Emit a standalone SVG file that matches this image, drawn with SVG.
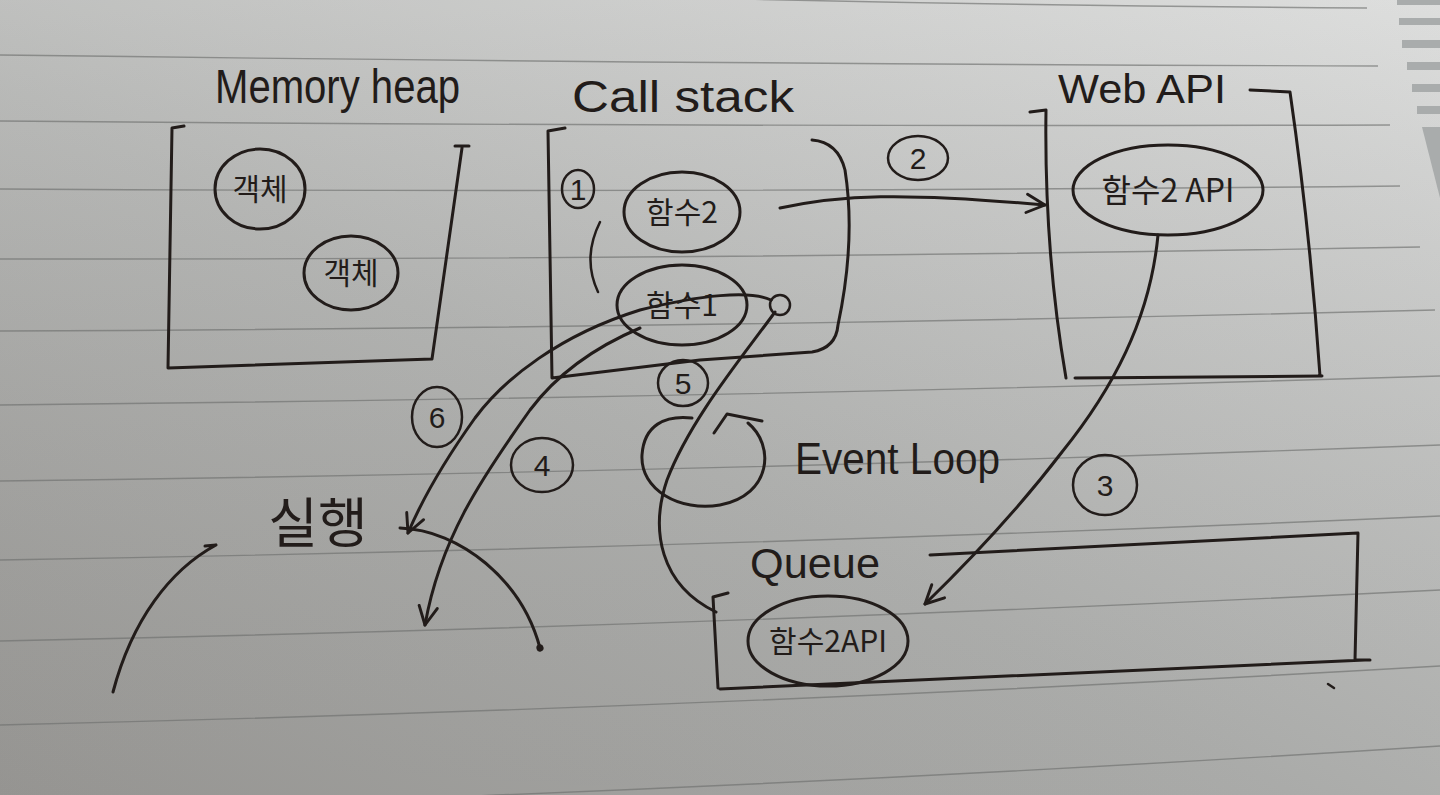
<svg xmlns="http://www.w3.org/2000/svg" width="1440" height="795" viewBox="0 0 1440 795">
  <defs>
    <linearGradient id="paper" x1="0" y1="1" x2="1" y2="0">
      <stop offset="0" stop-color="#9d9c99"/>
      <stop offset="0.45" stop-color="#b3b4b2"/>
      <stop offset="1" stop-color="#d9dad9"/>
    </linearGradient>
    <linearGradient id="shade" x1="0" y1="0" x2="0" y2="1">
      <stop offset="0" stop-color="#ffffff" stop-opacity="0.12"/>
      <stop offset="1" stop-color="#000000" stop-opacity="0.05"/>
    </linearGradient>
    <marker id="arr" viewBox="0 0 12 12" refX="11" refY="6" markerWidth="22" markerHeight="22" markerUnits="userSpaceOnUse" orient="auto">
      <path d="M1,1 L11,6 L1,11" fill="none" stroke="#221c1a" stroke-width="1.6" stroke-linecap="round" stroke-linejoin="round"/>
    </marker>
    <marker id="tip" viewBox="0 0 10 10" refX="5" refY="5" markerWidth="9" markerHeight="9" markerUnits="userSpaceOnUse" orient="auto">
      <circle cx="5" cy="5" r="4" fill="#221c1a"/>
    </marker>
  </defs>
  <style>
    .ink { fill: none; stroke: #221c1a; stroke-width: 3; stroke-linecap: round; stroke-linejoin: round; }
    .thin { fill: none; stroke: #221c1a; stroke-width: 2.5; stroke-linecap: round; stroke-linejoin: round; }
    .rule { fill: none; stroke: #6f706e; stroke-width: 1.4; stroke-opacity: 0.65; }
    .lbl { font-family: "Liberation Sans", "Noto Sans", sans-serif; fill: #221c1a; }
    .ko { font-family: "Noto Sans CJK KR", "Noto Sans", sans-serif; fill: #221c1a; }
    .num { font-family: "Liberation Sans", "Noto Sans", sans-serif; fill: #221c1a; font-size: 30px; text-anchor: middle; }
    .stripe { fill: #a9acac; }
  </style>

  <!-- paper background -->
  <rect x="0" y="0" width="1440" height="795" fill="url(#paper)"/>
  <rect x="0" y="0" width="1440" height="795" fill="url(#shade)"/>

  <!-- ruled lines -->
  <g id="ruled-lines">
    <path class="rule" d="M700,-2 Q1030,6 1367,8"/>
    <path class="rule" d="M0,55 Q690,64 1378,66"/>
    <path class="rule" d="M0,121 Q695,127 1390,125"/>
    <path class="rule" d="M0,189 Q700,193 1400,186"/>
    <path class="rule" d="M0,259 Q710,260 1420,247"/>
    <path class="rule" d="M0,331 Q718,328 1435,310"/>
    <path class="rule" d="M0,405 Q720,398 1440,376"/>
    <path class="rule" d="M0,481 Q720,472 1440,445"/>
    <path class="rule" d="M0,560 Q720,548 1440,516"/>
    <path class="rule" d="M0,641 Q720,626 1440,590"/>
    <path class="rule" d="M0,725 Q720,708 1440,666"/>
    <path class="rule" d="M0,812 Q720,792 1440,746"/>
  </g>

  <!-- notebook index stripes (top right) -->
  <g id="stripes">
    <rect class="stripe" x="1397" y="0" width="43" height="5"/>
    <rect class="stripe" x="1399" y="18" width="41" height="7"/>
    <rect class="stripe" x="1402" y="40" width="38" height="8"/>
    <rect class="stripe" x="1407" y="62" width="33" height="8"/>
    <rect class="stripe" x="1412" y="84" width="28" height="8"/>
    <rect class="stripe" x="1417" y="106" width="23" height="8"/>
    <polygon class="stripe" points="1422,127 1440,127 1440,198"/>
  </g>

  <!-- Memory heap -->
  <g id="memory-heap">
    <text class="lbl" x="215" y="103" font-size="48" textLength="245" lengthAdjust="spacingAndGlyphs">Memory heap</text>
    <path class="ink" d="M184,126 L172,128 L168,368 L432,359 L462,148 M455,146 L469,146"/>
  </g>
  <g id="object-1">
    <ellipse class="ink" cx="260" cy="189" rx="45" ry="40"/>
    <text class="ko" x="260" y="200" font-size="30" text-anchor="middle">객체</text>
  </g>
  <g id="object-2">
    <ellipse class="ink" cx="351" cy="273" rx="47" ry="37"/>
    <text class="ko" x="351" y="284" font-size="30" text-anchor="middle">객체</text>
  </g>

  <!-- Call stack -->
  <g id="call-stack">
    <text class="lbl" x="572" y="112" font-size="44" textLength="222" lengthAdjust="spacingAndGlyphs">Call stack</text>
    <path class="ink" d="M565,128 L548,131 L552,378 L700,360 L812,352 Q836,348 838,325 Q856,240 845,170 Q838,142 812,140"/>
    <path class="thin" d="M600,222 Q582,258 598,292"/>
  </g>
  <g id="func-2">
    <ellipse class="ink" cx="682" cy="212" rx="58" ry="40"/>
    <text class="ko" x="682" y="223" font-size="30" text-anchor="middle">함수2</text>
  </g>
  <g id="func-1">
    <ellipse class="ink" cx="682" cy="305" rx="65" ry="40"/>
    <text class="ko" x="682" y="316" font-size="30" text-anchor="middle">함수1</text>
  </g>
  <g id="junction">
    <circle class="thin" cx="780" cy="305" r="10"/>
  </g>

  <!-- Web API -->
  <g id="web-api">
    <text class="lbl" x="1058" y="103" font-size="40" textLength="168" lengthAdjust="spacingAndGlyphs">Web API</text>
    <path class="ink" d="M1030,112 L1046,110 Q1044,250 1066,378 M1075,378 L1322,376 M1250,90 L1290,92 Q1310,230 1320,376"/>
  </g>
  <g id="func-2-api">
    <ellipse class="ink" cx="1168" cy="190" rx="95" ry="45"/>
    <text class="ko" x="1168" y="202" font-size="32" text-anchor="middle">함수2 API</text>
  </g>

  <!-- Event loop -->
  <g id="event-loop">
    <path class="ink" d="M748,423 C775,445 772,495 720,505 C680,512 640,490 642,455 C644,425 665,415 692,418"/>
    <path class="ink" d="M714,433 L727,414 L762,421"/>
    <text class="lbl" x="795" y="474" font-size="44" textLength="205" lengthAdjust="spacingAndGlyphs">Event Loop</text>
  </g>

  <!-- Queue -->
  <g id="queue">
    <text class="lbl" x="750" y="578" font-size="42" textLength="130" lengthAdjust="spacingAndGlyphs">Queue</text>
    <path class="ink" d="M930,555 L1358,533 L1355,660 L1370,660 M1365,660 L720,689 M728,593 L713,597 L718,688"/>
  </g>
  <g id="queue-item">
    <ellipse class="ink" cx="828" cy="641" rx="80" ry="45"/>
    <text class="ko" x="828" y="652" font-size="30" text-anchor="middle">함수2API</text>
  </g>

  <!-- 실행 -->
  <g id="run">
    <text class="ko" x="318" y="543" font-size="54" text-anchor="middle">실행</text>
  </g>

  <!-- connectors -->
  <g id="connectors">
    <!-- (2) call stack -> Web API -->
    <path class="ink" d="M780,208 C840,195 900,192 1045,205" marker-end="url(#arr)"/>
    <!-- (3) Web API -> Queue -->
    <path class="ink" d="M1158,235 C1150,320 1112,390 1062,452 C1010,520 960,570 925,604" marker-end="url(#arr)"/>
    <!-- (4) func1 -> down -->
    <path class="ink" d="M640,328 C600,345 560,370 530,410 C480,480 440,540 425,625" marker-end="url(#arr)"/>
    <!-- (5) queue item -> call stack -->
    <path class="ink" d="M775,312 C740,360 690,420 667,480 C650,530 660,585 716,612"/>
    <!-- (6) call stack -> 실행 -->
    <path class="ink" d="M771,300 C750,290 700,295 640,310 C560,335 505,378 475,418 C445,460 422,500 408,533" marker-end="url(#arr)"/>
    <!-- 실행 arcs -->
    <path class="ink" d="M400,528 C460,530 522,580 540,648" marker-end="url(#tip)"/>
    <path class="ink" d="M205,546 L216,545 M216,545 C170,570 132,620 113,692"/>
    <!-- small mark -->
    <path class="thin" d="M1328,684 L1334,688"/>
  </g>

  <!-- step numbers -->
  <g id="step-labels">
    <ellipse class="thin" cx="578" cy="189" rx="16" ry="19"/>
    <text class="num" x="578" y="200" font-size="26">1</text>
    <ellipse class="thin" cx="918" cy="158" rx="30" ry="22"/>
    <text class="num" x="918" y="169">2</text>
    <ellipse class="thin" cx="1105" cy="485" rx="32" ry="30"/>
    <text class="num" x="1105" y="496">3</text>
    <ellipse class="thin" cx="542" cy="465" rx="31" ry="27"/>
    <text class="num" x="542" y="476">4</text>
    <ellipse class="thin" cx="683" cy="383" rx="25" ry="23"/>
    <text class="num" x="683" y="394">5</text>
    <ellipse class="thin" cx="437" cy="417" rx="25" ry="30"/>
    <text class="num" x="437" y="428">6</text>
  </g>
</svg>
